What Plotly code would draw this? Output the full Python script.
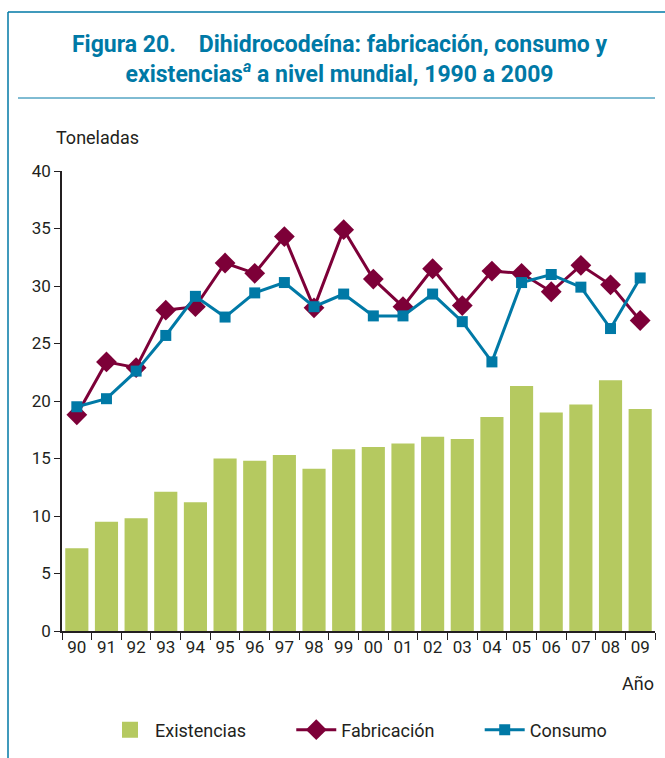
import plotly.graph_objects as go

# Datos (toneladas)
anios = ["90", "91", "92", "93", "94", "95", "96", "97", "98", "99",
         "00", "01", "02", "03", "04", "05", "06", "07", "08", "09"]
existencias = [7.2, 9.5, 9.8, 12.1, 11.2, 15.0, 14.8, 15.3, 14.1, 15.8,
               16.0, 16.3, 16.9, 16.7, 18.6, 21.3, 19.0, 19.7, 21.8, 19.3]
fabricacion = [18.8, 23.4, 22.9, 27.9, 28.2, 32.0, 31.1, 34.3, 28.1, 34.9,
               30.6, 28.2, 31.5, 28.3, 31.3, 31.1, 29.5, 31.8, 30.1, 27.0]
consumo = [19.5, 20.2, 22.6, 25.7, 29.1, 27.3, 29.4, 30.3, 28.2, 29.3,
           27.4, 27.4, 29.3, 26.9, 23.4, 30.3, 31.0, 29.9, 26.3, 30.7]

AZUL = "#0079a6"
GRANATE = "#7d0038"
VERDE = "#b5c960"
FUENTE = "Roboto, Liberation Sans, sans-serif"
HUECO = "\u00a0" * 9  # separación entre entradas de la leyenda

fig = go.Figure()
fig.add_trace(go.Bar(x=anios, y=existencias, name="Existencias", showlegend=False,
                     marker=dict(color=VERDE, line=dict(width=0))))
# solo para la leyenda (cuadro más grande)
fig.add_trace(go.Scatter(x=anios[:1], y=[None], name="Existencias" + HUECO, mode="markers",
                         marker=dict(symbol="square", size=16, color=VERDE)))
fig.add_trace(go.Scatter(x=anios, y=fabricacion, name="Fabricación" + HUECO,
                         mode="lines+markers",
                         line=dict(color=GRANATE, width=3),
                         marker=dict(symbol="diamond", size=16, color=GRANATE)))
fig.add_trace(go.Scatter(x=anios, y=consumo, name="Consumo", mode="lines+markers",
                         line=dict(color=AZUL, width=3),
                         marker=dict(symbol="square", size=11, color=AZUL)))

# posiciones en coordenadas "paper" del área de trazado (62..655 x 171..631 px)
def px_x(p):
    return (p - 62) / 593

def px_y(p):
    return (631 - p) / 460

fig.update_layout(
    width=665, height=758,
    margin=dict(l=62, r=10, t=171, b=127),
    paper_bgcolor="white", plot_bgcolor="white",
    font=dict(family=FUENTE, size=17, color="#231f20"),
    bargap=0.22,
    showlegend=True,
    legend=dict(orientation="h", x=px_x(105), xanchor="left", y=px_y(730), yanchor="middle",
                font=dict(size=18), itemwidth=40, traceorder="normal"),
    xaxis=dict(type="category", categoryorder="array", categoryarray=anios,
               range=[-0.5, len(anios) - 0.5], showline=True, linecolor="#231f20",
               linewidth=1.5, ticks="outside", tickson="boundaries", ticklen=7,
               tickcolor="#231f20", showgrid=False, tickfont=dict(size=17), tickangle=0),
    yaxis=dict(range=[0, 40], dtick=5, showline=True, linecolor="#231f20", linewidth=1.5,
               ticks="outside", ticklen=6, tickcolor="#231f20", showgrid=False,
               zeroline=False, tickfont=dict(size=17)),
    shapes=[
        dict(type="line", xref="paper", yref="paper", x0=px_x(8), x1=px_x(8),
             y0=px_y(12), y1=px_y(760), line=dict(color=AZUL, width=1.5)),
        dict(type="line", xref="paper", yref="paper", x0=px_x(8), x1=px_x(666),
             y0=px_y(12), y1=px_y(12), line=dict(color=AZUL, width=1.5)),
        dict(type="line", xref="paper", yref="paper", x0=px_x(18), x1=px_x(655),
             y0=px_y(98), y1=px_y(98), line=dict(color=AZUL, width=1)),
    ],
    annotations=[
        dict(text="<b>Figura 20.    Dihidrocodeína: fabricación, consumo y<br>"
                  "existencias<sup><i>a</i></sup> a nivel mundial, 1990 a 2009</b>",
             xref="paper", yref="paper", x=px_x(340), y=px_y(59), xanchor="center",
             yanchor="middle", showarrow=False, align="center",
             font=dict(size=23, color=AZUL, family=FUENTE)),
        dict(text="Toneladas", xref="paper", yref="paper", x=px_x(54), y=px_y(137),
             xanchor="left", yanchor="middle", showarrow=False, font=dict(size=18)),
        dict(text="Año", xref="paper", yref="paper", x=px_x(656), y=px_y(683),
             xanchor="right", yanchor="middle", showarrow=False, font=dict(size=18)),
    ],
)

fig.write_html("out.html", config={"displayModeBar": False},
               post_script="document.body.style.margin='0';")
